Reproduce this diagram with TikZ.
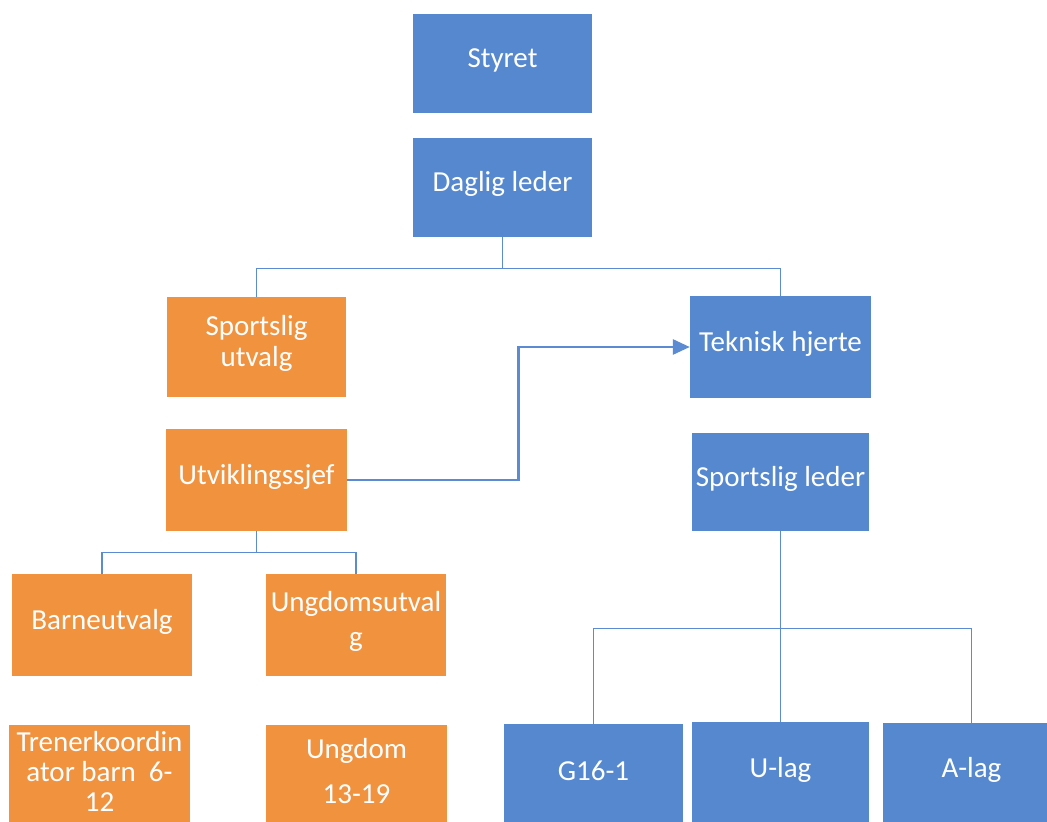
\documentclass[tikz,border=0pt]{standalone}
\usepackage{fontspec}
\setmainfont{Carlito}
\usetikzlibrary{arrows.meta}
\definecolor{boxblue}{RGB}{85,136,207}
\definecolor{boxorange}{RGB}{241,146,63}
\definecolor{lineblue}{RGB}{91,139,210}
\tikzset{
  txt/.style={inner sep=0pt, align=center, text=white, font=\fontsize{29}{31}\selectfont, yshift=3.5pt},
  box/.style={inner sep=0pt},
  bbox/.style={box, fill=boxblue},
  obox/.style={box, fill=boxorange},
  conn/.style={draw=lineblue, line width=1.3pt},
  arr/.style={draw=lineblue, line width=2.8pt, -{Triangle[length=17pt,width=15pt]}}
}
\begin{document}
\begin{tikzpicture}[x=1pt,y=-1pt]
\clip (0,0) rectangle (1047,822);
\fill[white] (0,0) rectangle (1047,822);
\node[bbox, minimum width=179pt, minimum height=99pt, label={[txt]center:Styret}] (styret) at (502.5,63.5) {};
\node[bbox, minimum width=179pt, minimum height=99pt, label={[txt]center:Daglig leder}] (daglig) at (502.5,187.5) {};
\node[obox, minimum width=179pt, minimum height=100pt, label={[txt]center:{Sportslig\\utvalg}}] (sutvalg) at (256.5,347) {};
\node[bbox, minimum width=181pt, minimum height=102pt, label={[txt]center:Teknisk hjerte}] (teknisk) at (780.5,347) {};
\node[obox, minimum width=181pt, minimum height=102pt, label={[txt]center:Utviklingssjef}] (utvikling) at (256.5,480) {};
\node[bbox, minimum width=177pt, minimum height=98pt, label={[txt]center:Sportslig leder}] (sleder) at (780.5,482) {};
\node[obox, minimum width=180pt, minimum height=102pt, label={[txt]center:Barneutvalg}] (barne) at (102,625) {};
\node[obox, minimum width=180pt, minimum height=102pt, label={[txt, font=\fontsize{29}{35}\selectfont]center:{Ungdomsutval\\g}}] (ungutvalg) at (356,625) {};
\node[obox, minimum width=181pt, minimum height=100pt, label={[txt, font=\fontsize{29}{30}\selectfont]center:{Trenerkoordin\\ator barn~ 6-\\12}}] (trener) at (99.5,775) {};
\node[obox, minimum width=181pt, minimum height=100pt, label={[txt, font=\fontsize{29}{45}\selectfont]center:{Ungdom\\13-19}}] (ungdom) at (356.5,775) {};
\node[bbox, minimum width=179pt, minimum height=100pt, label={[txt]center:G16-1}] (g16) at (593.5,774) {};
\node[bbox, minimum width=177pt, minimum height=102pt, label={[txt]center:U-lag}] (ulag) at (780.5,773) {};
\node[bbox, minimum width=177pt, minimum height=101pt, label={[txt]center:A-lag}] (alag) at (971.5,773.5) {};
\draw[conn] (daglig.south) -- ++(0,31) -| (sutvalg.north);
\draw[conn] (daglig.south) -- ++(0,31) -| (teknisk.north);
\draw[conn] (utvikling.south) -- ++(0,21) -| (barne.north);
\draw[conn] (utvikling.south) -- ++(0,21) -| (ungutvalg.north);
\draw[conn] (sleder.south) -- ++(0,97) -| (g16.north);
\draw[conn] (sleder.south) -- ++(0,97) -| (alag.north);
\draw[conn] (sleder.south) -- (ulag.north);
\draw[arr] (utvikling.east) -- ++(171,0) |- (teknisk.west);
\end{tikzpicture}
\end{document}
